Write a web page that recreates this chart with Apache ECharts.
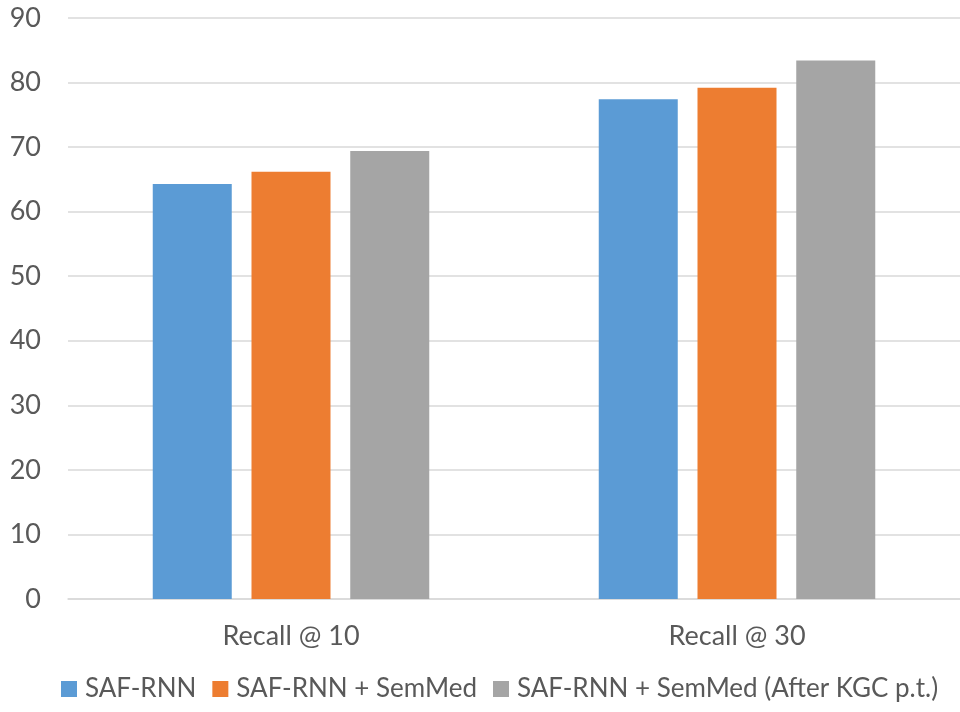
<!DOCTYPE html>
<html>
<head>
<meta charset="utf-8">
<script src="https://cdn.jsdelivr.net/npm/echarts@6/dist/echarts.min.js"></script>
<style>
  html, body { margin: 0; padding: 0; background: #fff; }
  #chart { width: 960px; height: 712px; }
</style>
</head>
<body>
<div id="chart"></div>
<script>
// Recall scores per method
var categories = ['Recall @ 10', 'Recall @ 30'];
var seriesNames = ['SAF-RNN', 'SAF-RNN + SemMed', 'SAF-RNN + SemMed (After KGC p.t.)'];
var safRnn = [64.3, 77.4];
var safRnnSemMed = [66.2, 79.2];
var safRnnSemMedKgc = [69.4, 83.4];
var yTicks = [0, 10, 20, 30, 40, 50, 60, 70, 80, 90];

var colors = ['#5B9BD5', '#ED7D31', '#A5A5A5'];
var font = 'Lato, "Open Sans", sans-serif';
var values = [safRnn, safRnnSemMed, safRnnSemMedKgc];

var chart = echarts.init(document.getElementById('chart'));
chart.setOption({
  animation: false,
  color: colors,
  textStyle: { fontFamily: font, color: '#595959' },
  grid: { left: 68, top: 18, width: 896, height: 581, containLabel: false },
  legend: {
    bottom: 5,
    left: 56,
    itemWidth: 16,
    itemHeight: 16,
    itemGap: 16,
    icon: 'rect',
    textStyle: { fontFamily: font, fontSize: 26, color: '#595959', padding: [0, 0, 0, 3] },
    data: seriesNames
  },
  xAxis: {
    type: 'category',
    data: categories,
    axisLine: { lineStyle: { color: '#D9D9D9', width: 1.5 } },
    axisTick: { show: false },
    axisLabel: { fontSize: 27, color: '#595959', margin: 24, fontFamily: font }
  },
  yAxis: {
    type: 'value',
    min: yTicks[0],
    max: yTicks[yTicks.length - 1],
    interval: 10,
    axisLine: { show: false },
    axisTick: { show: false },
    splitLine: { lineStyle: { color: '#D9D9D9', width: 1.5 } },
    axisLabel: { fontSize: 27, color: '#595959', margin: 27, fontFamily: font }
  },
  series: seriesNames.map(function (name, i) {
    return {
      name: name,
      type: 'bar',
      data: values[i],
      barWidth: 79,
      barGap: '25%',
      itemStyle: { color: colors[i] }
    };
  })
});
</script>
</body>
</html>
